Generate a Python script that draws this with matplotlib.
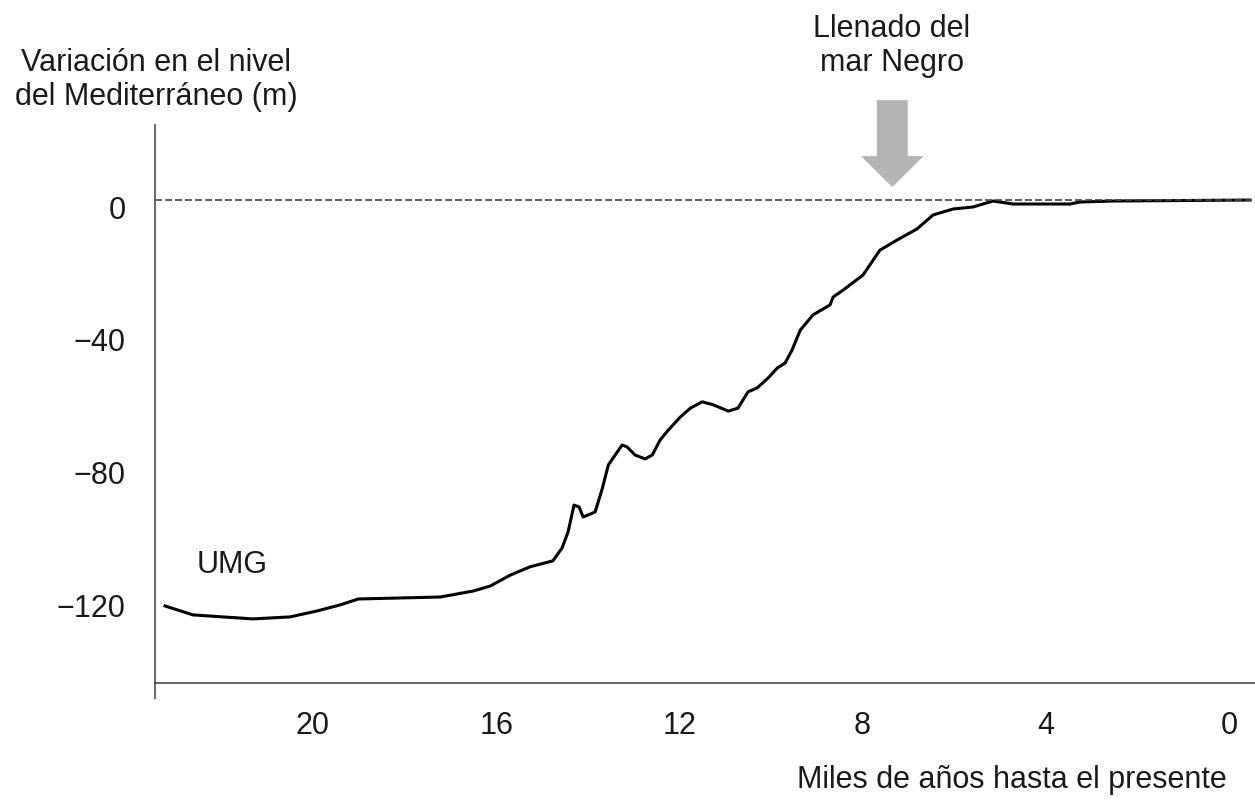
import matplotlib.pyplot as plt
from matplotlib.transforms import ScaledTranslation

plt.rcParams['font.family'] = ['Liberation Sans', 'DejaVu Sans']

# miles de años antes del presente / variación del nivel del mar (m)
edad = [23.23, 22.62, 21.31, 20.50, 19.91, 19.41, 19.01, 17.22, 16.50, 16.13,
        15.69, 15.26, 14.76, 14.56, 14.43, 14.30, 14.19, 14.10, 13.84, 13.69,
        13.55, 13.25, 13.14, 12.97, 12.75, 12.59, 12.42, 12.24, 11.98, 11.76,
        11.50, 11.26, 10.93, 10.72, 10.50, 10.30, 10.06, 9.86, 9.69, 9.54,
        9.36, 9.08, 8.71, 8.64, 8.42, 7.99, 7.62, 7.24, 6.81, 6.46,
        6.02, 5.59, 5.15, 4.71, 3.47, 3.25, 2.53, -0.46]
nivel = [-122.3, -125.0, -126.2, -125.6, -123.8, -122.0, -120.2, -119.6, -117.8, -116.3,
         -113.0, -110.5, -108.7, -104.8, -100.0, -91.9, -92.5, -95.5, -94.0, -87.3,
         -79.8, -73.8, -74.4, -76.8, -78.0, -76.8, -72.3, -69.3, -65.4, -62.7,
         -60.8, -61.7, -63.6, -62.7, -57.8, -56.6, -53.6, -50.6, -49.1, -45.2,
         -39.2, -34.6, -31.6, -29.2, -27.1, -22.6, -15.1, -12.0, -8.7, -4.5,
         -2.7, -2.1, -0.3, -1.2, -1.2, -0.6, -0.3, 0.0]

xticks = [20, 16, 12, 8, 4, 0]
yticks = [0, -40, -80, -120]
llenado_edad = 7.35  # llenado del mar Negro

fig = plt.figure(figsize=(12.55, 8.05), dpi=100)
ax = fig.add_axes([0.1235, 0.1516, 0.8765, 0.6931])

ax.plot(edad, nivel, color='black', lw=2.2, solid_joinstyle='round')
ax.axhline(0, color='#444444', lw=1.2, dashes=(4.2, 1.8))

ax.set_xlim(23.45, -0.57)
ax.set_ylim(-145.5, 22.6)

ax.set_xticks(xticks)
ax.set_yticks(yticks)
ax.tick_params(length=0, labelsize=22, colors='#1a1a1a')
ax.tick_params(axis='x', pad=20)
ax.tick_params(axis='y', pad=21)
off = ScaledTranslation(0, -7 / 100, fig.dpi_scale_trans)
for lab in ax.get_yticklabels():
    lab.set_transform(lab.get_transform() + off)

for s in ['top', 'right']:
    ax.spines[s].set_visible(False)
ax.spines['left'].set_color('#6e6e6e')
ax.spines['left'].set_linewidth(1.5)
ax.spines['left'].set_bounds(-150, 22.6)
ax.spines['bottom'].set_color('#3a3a3a')
ax.spines['bottom'].set_linewidth(1.1)

ax.annotate('', xy=(llenado_edad, 3.9), xytext=(llenado_edad, 30.1),
            annotation_clip=False,
            arrowprops=dict(arrowstyle='simple,head_length=2.23,head_width=4.5,tail_width=2.23',
                            mutation_scale=10, color='#b4b4b4', shrinkA=0, shrinkB=0, lw=0))

ax.text(22.53, -110, 'UMG', fontsize=22, color='#1a1a1a', ha='left', va='center')

fig.text(156 / 1255, 1 - 80 / 805, 'Variación en el nivel\ndel Mediterráneo (m)',
         fontsize=22, color='#1a1a1a', ha='center', va='center', multialignment='center',
         linespacing=1.15)
fig.text(892 / 1255, 1 - 46 / 805, 'Llenado del\nmar Negro',
         fontsize=22, color='#1a1a1a', ha='center', va='center', multialignment='center',
         linespacing=1.15)
fig.text(1012 / 1255, 1 - 780 / 805, 'Miles de años hasta el presente',
         fontsize=22, color='#1a1a1a', ha='center', va='center')

fig.savefig('out.png', dpi=100, facecolor='white')
